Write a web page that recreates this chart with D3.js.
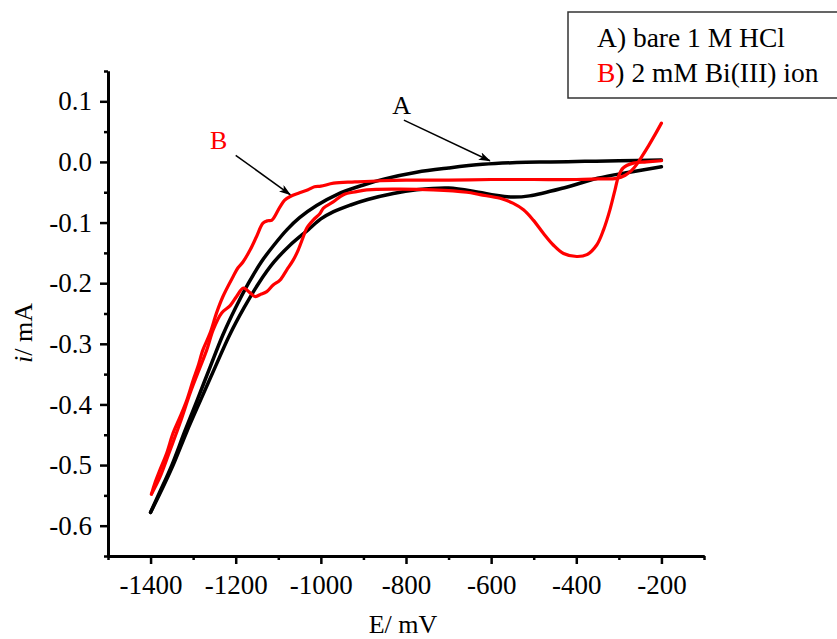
<!DOCTYPE html>
<html>
<head>
<meta charset="utf-8">
<script src="https://cdn.jsdelivr.net/npm/d3@7"></script>
<style>
  body { margin: 0; background: #fff; }
  text { font-family: "Liberation Serif", "Times New Roman", serif; }
</style>
</head>
<body>
<script>
// axis ticks
var eTicks = [-1400, -1200, -1000, -800, -600, -400, -200];
var eMinor = [-1500, -1300, -1100, -900, -700, -500, -300, -100];
var iTicks = [-0.6, -0.5, -0.4, -0.3, -0.2, -0.1, 0.0, 0.1];
var iMinor = [-0.65, -0.55, -0.45, -0.35, -0.25, -0.15, -0.05, 0.05, 0.15];

// curve A (bare 1 M HCl), [E mV, i mA]
var curveA1 = [[-1400,-0.578],[-1380,-0.547],[-1350,-0.500],[-1320,-0.445],[-1290,-0.392],[-1260,-0.338],
  [-1230,-0.285],[-1200,-0.240],[-1170,-0.200],[-1140,-0.165],[-1110,-0.137],[-1080,-0.112],[-1050,-0.092],
  [-1010,-0.072],[-960,-0.053],[-900,-0.038],[-850,-0.028],[-775,-0.017],[-700,-0.010],[-620,-0.004],
  [-540,-0.001],[-460,0.000],[-380,0.001],[-300,0.002],[-200,0.003]];
var curveA2 = [[-200,-0.008],[-275,-0.017],[-350,-0.027],[-430,-0.043],[-510,-0.056],[-550,-0.058],
  [-590,-0.055],[-630,-0.050],[-700,-0.043],[-775,-0.046],[-830,-0.052],[-890,-0.062],[-930,-0.071],
  [-970,-0.082],[-1000,-0.094],[-1030,-0.112],[-1072,-0.137],[-1110,-0.165],[-1146,-0.200],
  [-1180,-0.240],[-1214,-0.285],[-1248,-0.338],[-1282,-0.392],[-1315,-0.445],[-1347,-0.500],
  [-1378,-0.547],[-1400,-0.578]];

// curve B (2 mM Bi(III) ion)
var curveB1 = [[-200,0.064],[-215,0.045],[-230,0.027],[-245,0.010],[-258,-0.004],[-270,-0.014],
  [-285,-0.022],[-305,-0.027],[-350,-0.028],[-400,-0.029],[-500,-0.029],[-600,-0.029],[-700,-0.030],
  [-800,-0.030],[-860,-0.031],[-920,-0.033],[-970,-0.035],[-1000,-0.040],[-1015,-0.041],[-1030,-0.046],
  [-1050,-0.051],[-1072,-0.057],[-1085,-0.063],[-1096,-0.074],[-1115,-0.096],[-1125,-0.097],[-1136,-0.101],
  [-1151,-0.123],[-1166,-0.145],[-1183,-0.165],[-1195,-0.175],[-1206,-0.189],[-1230,-0.222],[-1245,-0.249],
  [-1260,-0.282],[-1277,-0.310],[-1289,-0.338],[-1300,-0.360],[-1315,-0.393],[-1331,-0.421],
  [-1347,-0.447],[-1362,-0.480],[-1378,-0.508],[-1390,-0.530],[-1398,-0.548]];
var curveB2 = [[-1398,-0.548],[-1378,-0.520],[-1354,-0.475],[-1331,-0.431],[-1307,-0.381],[-1289,-0.348],
  [-1268,-0.310],[-1253,-0.277],[-1233,-0.249],[-1213,-0.237],[-1198,-0.222],[-1182,-0.208],[-1166,-0.216],
  [-1155,-0.222],[-1143,-0.219],[-1127,-0.214],[-1112,-0.203],[-1096,-0.195],[-1080,-0.178],[-1065,-0.162],
  [-1053,-0.145],[-1041,-0.123],[-1033,-0.109],[-1018,-0.096],[-1002,-0.085],[-994,-0.076],[-971,-0.066],
  [-947,-0.054],[-916,-0.049],[-892,-0.046],[-814,-0.045],[-736,-0.046],[-657,-0.050],[-626,-0.054],
  [-579,-0.060],[-549,-0.068],[-524,-0.079],[-501,-0.096],[-477,-0.118],[-454,-0.137],[-430,-0.151],
  [-399,-0.156],[-375,-0.153],[-352,-0.137],[-336,-0.112],[-321,-0.079],[-309,-0.046],[-301,-0.024],
  [-290,-0.010],[-266,-0.002],[-235,0.000],[-200,0.002]];

// labels with arrows: text position, arrow start, arrow tip
var noteA = {label: "A", color: "black", text: [-810, 0.079], from: [-805, 0.069], to: [-603, 0.002]};
var noteB = {label: "B", color: "red", text: [-1240, 0.021], from: [-1200, 0.011], to: [-1072, -0.054]};

var legendRows = [
  {key: "A", keyColor: "black", rest: ") bare 1 M HCl"},
  {key: "B", keyColor: "red", rest: ") 2 mM Bi(III) ion"}
];

var width = 837, height = 639;

var svg = d3.select("body").append("svg")
  .attr("width", width)
  .attr("height", height)
  .style("background-color", "white");

var x = d3.scaleLinear().domain([-1500, -100]).range([108, 704]);
var y = d3.scaleLinear().domain([-0.65, 0.15]).range([556, 71]);

// arrow head
svg.append("defs").append("marker")
  .attr("id", "head")
  .attr("markerUnits", "userSpaceOnUse")
  .attr("markerWidth", 12).attr("markerHeight", 8)
  .attr("refX", 11).attr("refY", 4)
  .attr("orient", "auto")
  .append("path")
  .attr("d", "M0,0 L12,4 L0,8 L3,4 Z")
  .attr("fill", "black");

// axes
function styleAxis(g) {
  g.attr("font-family", null);
  g.selectAll("path.domain").attr("stroke", "black").attr("stroke-width", 3);
  g.selectAll("line").attr("stroke", "black").attr("stroke-width", 2.5);
  g.selectAll("text").attr("fill", "black").style("font-size", "27px")
    .style("font-family", '"Liberation Serif", "Times New Roman", serif');
}

var xMinorG = svg.append("g").attr("transform", "translate(0,556)")
  .call(d3.axisBottom(x).tickValues(eMinor).tickSize(4).tickSizeOuter(0).tickFormat(""));
var xAxisG = svg.append("g").attr("transform", "translate(0,556)")
  .call(d3.axisBottom(x).tickValues(eTicks).tickSize(8).tickSizeOuter(0).tickPadding(11)
    .tickFormat(d3.format("d")));
var yMinorG = svg.append("g").attr("transform", "translate(108,0)")
  .call(d3.axisLeft(y).tickValues(iMinor).tickSize(4).tickSizeOuter(0).tickFormat(""));
var yAxisG = svg.append("g").attr("transform", "translate(108,0)")
  .call(d3.axisLeft(y).tickValues(iTicks).tickSize(8).tickSizeOuter(0).tickPadding(8)
    .tickFormat(function(d){ return d3.format(".1f")(d).replace("−", "-"); }));
[xMinorG, xAxisG, yMinorG, yAxisG].forEach(styleAxis);
xAxisG.selectAll("text").text(function(d){ return String(d); });

// axis titles
svg.append("text")
  .attr("x", 403).attr("y", 633)
  .attr("text-anchor", "middle")
  .style("font-size", "26px")
  .text("E/ mV");

var yTitle = svg.append("text")
  .attr("transform", "translate(32,333) rotate(-90)")
  .attr("text-anchor", "middle")
  .style("font-size", "26px");
yTitle.append("tspan").style("font-style", "italic").text("i");
yTitle.append("tspan").text("/ mA");

// curves
var line = d3.line()
  .x(function(d){ return x(d[0]); })
  .y(function(d){ return y(d[1]); })
  .curve(d3.curveCatmullRom.alpha(0.5));

var curves = [
  {data: curveA1, color: "black", w: 3.5},
  {data: curveA2, color: "black", w: 3.5},
  {data: curveB1, color: "red", w: 3.2},
  {data: curveB2, color: "red", w: 3.2}
];

svg.append("g").selectAll("path")
  .data(curves)
  .enter().append("path")
  .attr("d", function(d){ return line(d.data); })
  .attr("fill", "none")
  .attr("stroke", function(d){ return d.color; })
  .attr("stroke-width", function(d){ return d.w; })
  .attr("stroke-linejoin", "round")
  .attr("stroke-linecap", "round");

// annotations
[noteA, noteB].forEach(function(n) {
  svg.append("line")
    .attr("x1", x(n.from[0])).attr("y1", y(n.from[1]))
    .attr("x2", x(n.to[0])).attr("y2", y(n.to[1]))
    .attr("stroke", "black").attr("stroke-width", 1.5)
    .attr("marker-end", "url(#head)");
  svg.append("text")
    .attr("x", x(n.text[0])).attr("y", y(n.text[1]))
    .attr("text-anchor", "middle")
    .attr("fill", n.color)
    .style("font-size", "26px")
    .text(n.label);
});

// legend
var legend = svg.append("g").attr("class", "legend");
legend.append("rect")
  .attr("x", 568).attr("y", 12)
  .attr("width", 280).attr("height", 86)
  .attr("fill", "white")
  .attr("stroke", "#333").attr("stroke-width", 1.5);
legend.selectAll("text.row")
  .data(legendRows)
  .enter().append("text")
  .attr("class", "row")
  .attr("x", 597)
  .attr("y", function(d, i){ return 47 + i * 35; })
  .style("font-size", "27.5px")
  .each(function(d) {
    var t = d3.select(this);
    t.append("tspan").attr("fill", d.keyColor).text(d.key);
    t.append("tspan").attr("fill", "black").text(d.rest);
  });
</script>
</body>
</html>
